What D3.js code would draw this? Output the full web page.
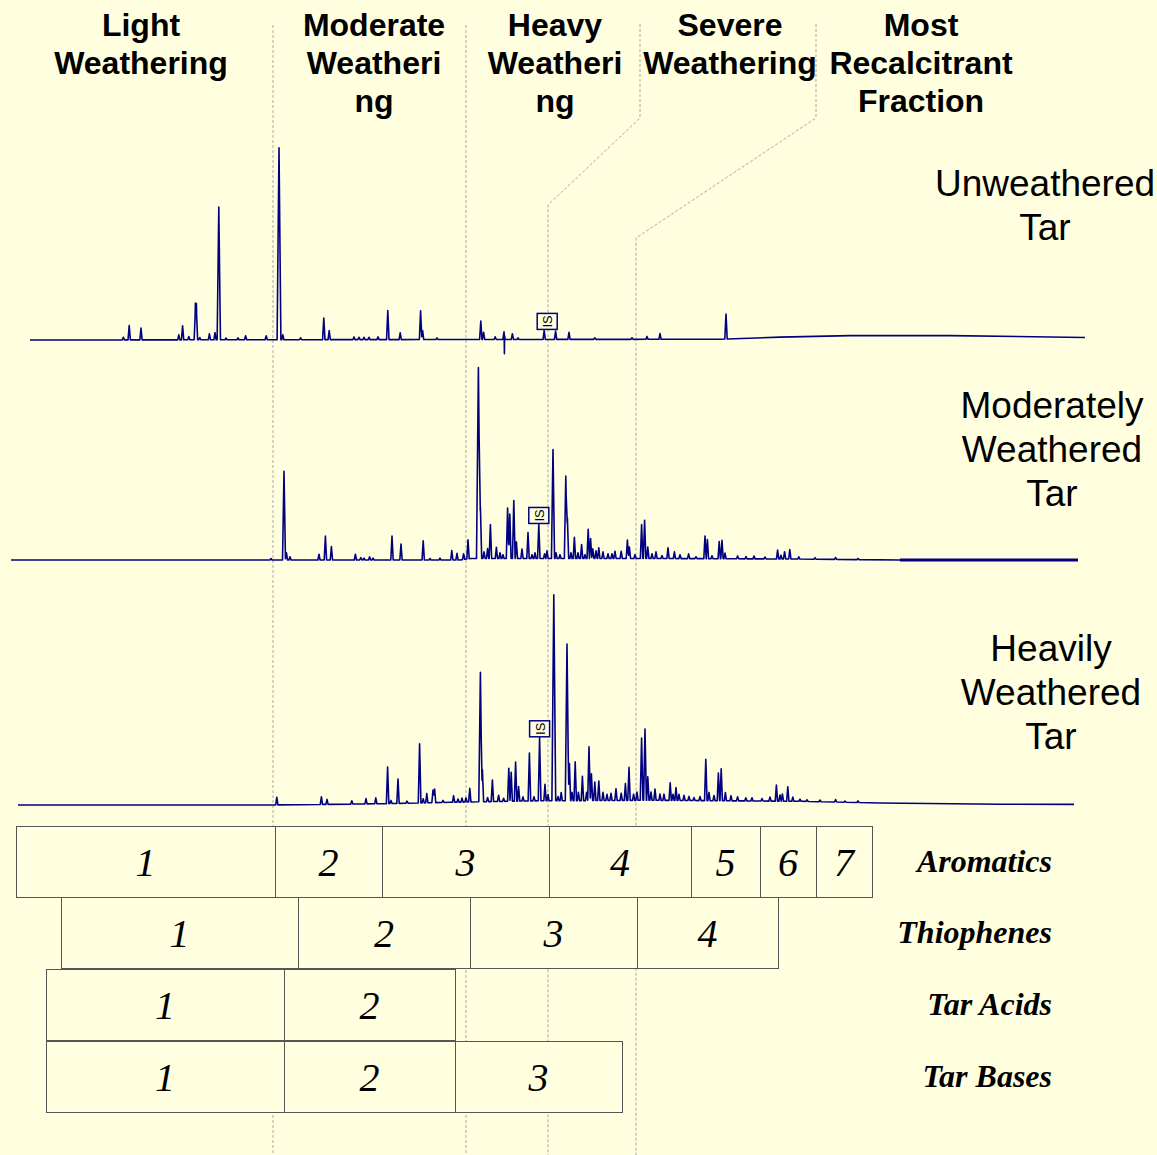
<!DOCTYPE html>
<html><head><meta charset="utf-8">
<script src="https://cdn.jsdelivr.net/npm/d3@7"></script>
<style>html,body{margin:0;padding:0;background:#FFFFE0;} svg{display:block;}</style>
</head><body><svg id="c" width="1157" height="1155"></svg>
<script>
// ---------------- DATA ----------------
// retention time (min), relative abundance (%)
const trace1Peaks = [[5.67,1.4],[5.96,7.5],[6.55,6.1],[8.44,2.6],[8.63,7.3],[8.94,1.7],[9.27,16.2],[9.32,15.8],[9.49,1.2],[9.97,3.1],[10.25,3.8],[10.44,69.2],[10.8,0.9],[11.4,1],[11.78,2.1],[12.81,2.1],[13.45,100],[13.64,2.6],[14.53,1],[15.69,11.3],[15.96,4.7],[17.2,1.4],[17.45,1.2],[17.7,1.2],[17.95,1.2],[18.4,1.4],[18.89,15.1],[19.51,3.5],[20.53,15],[20.63,4.7],[21.35,0.8],[23.54,9.6],[23.68,3.8],[24.26,1.4],[24.7,4],[24.72,-10],[25.12,3],[25.4,0.8],[26.71,4.7],[27.28,4.3],[27.95,3.7],[29.24,0.8],[31.1,0.8],[31.85,1.5],[32.5,3],[35.8,13]];
const trace1Baseline = [[1.0,0],[35.5,0.4],[38.5,1.5],[42,2.3],[47,2.3],[53.75,1.3]];

const trace2Peaks = [[13.05,0.8],[13.7,46.4],[13.82,3.8],[14.0,1.7],[15.45,3],[15.77,12.5],[16.07,7],[17.27,3],[17.54,1.2],[17.7,1],[17.98,1.7],[18.15,1],[19.1,12.5],[19.55,8.3],[20.66,10],[21.0,0.8],[21.5,1],[22.09,4.9],[22.35,3.5],[22.68,3],[22.9,9.9],[23.42,100],[23.52,27],[23.7,3.5],[23.88,5.2],[24.02,17.7],[24.32,5.9],[24.5,3],[24.65,2],[24.88,26.4],[24.99,23.3],[25.19,30.3],[25.32,8.7],[25.6,4.9],[25.9,13.6],[26.1,2],[26.25,3],[26.44,17.8],[26.73,2.5],[26.85,4],[27.15,57],[27.3,3],[27.5,2],[27.79,43.1],[27.87,21.2],[28.05,3],[28.22,11.1],[28.4,3],[28.58,7.3],[28.75,2],[28.91,15.3],[29.03,10.4],[29.14,5],[29.3,4],[29.44,5.6],[29.65,3.5],[29.9,2.5],[30.1,2.5],[30.25,3.8],[30.56,3.8],[30.87,9.6],[30.97,6],[31.25,2],[31.58,17.7],[31.73,20],[31.89,6],[32.1,2.5],[32.3,3.5],[32.6,1.5],[32.9,5.6],[33.22,3.5],[33.5,2],[33.93,2.5],[34.3,1],[34.75,11.8],[34.87,10],[35.1,1.5],[35.46,9],[35.6,9.6],[35.75,3],[36.38,1.5],[36.8,1.2],[37.2,1.5],[37.75,1],[38.38,4.7],[38.55,2],[38.73,3.8],[38.99,4.9],[39.44,1.2],[40.25,0.8],[41.28,1],[42.4,0.6]];
const trace2Baseline = [[0.05,0],[22.5,0],[23.0,0.8],[32,0.8],[39.5,0.5],[44.5,0],[53.4,0]];

const trace3Peaks = [[13.34,3.7],[15.57,3.7],[15.85,2.4],[17.09,1.6],[17.8,2.6],[18.29,2.9],[18.88,17.7],[19.05,1.5],[19.4,11.8],[19.85,1],[20.48,28.7],[20.66,2],[20.84,4.5],[21.15,6.1],[21.23,6.6],[21.65,1],[22.18,3.2],[22.4,1.5],[22.6,2],[22.8,2],[22.99,6.6],[23.52,62.9],[23.62,15.5],[23.88,2],[24.12,10.5],[24.43,3],[24.68,1.5],[24.94,16],[25.06,14],[25.28,19],[25.43,7],[25.65,2],[25.97,23.2],[26.2,2],[26.48,30.6],[26.75,8],[26.9,3],[27.19,100],[27.4,2],[27.56,4],[27.85,76],[27.97,18],[28.1,4],[28.26,18.8],[28.42,4],[28.62,11.8],[28.83,4],[28.95,26.1],[29.07,13],[29.24,9],[29.44,9.5],[29.65,4],[29.85,3],[30.05,3.5],[30.3,5.7],[30.56,3.5],[30.77,8.2],[30.95,16],[31.18,3],[31.35,4],[31.58,30.2],[31.75,34.6],[31.89,11.4],[32.05,4],[32.25,5.5],[32.5,3],[32.7,3],[33.01,8.5],[33.15,3],[33.3,6.2],[33.45,3],[33.7,2.5],[33.95,2],[34.2,1.5],[34.5,2],[34.79,20.1],[34.95,4],[35.2,2.5],[35.42,13.4],[35.56,15.5],[35.77,4],[36.05,2.5],[36.38,2],[36.79,1.5],[37.1,1.5],[37.6,1.2],[38.0,2],[38.32,7.8],[38.5,3],[38.62,3.5],[38.89,7],[39.14,2],[39.5,1],[39.85,0.8],[40.5,0.8],[41.28,1.2],[41.75,0.6],[42.4,0.8]];
const trace3Baseline = [[0.4,0],[13,0],[18.5,0.6],[22,1.3],[26,2],[32,2.3],[39.5,1.8],[43.5,1],[49.5,0.4],[53.2,0.3]];

const traceRanges = [[1.0,53.75],[0.05,53.4],[0.4,53.2]];
const thickRanges = [[[1.0,5.35]],[[0.05,12.9],[44.3,53.4]],[[0.4,5.2],[51.5,53.2]]];
const isTimes = [26.71, 26.44, 26.48];
const traceLabels = [["Unweathered","Tar"],["Moderately","Weathered","Tar"],["Heavily","Weathered","Tar"]];

const headerLabels = [["Light","Weathering"],["Moderate","Weatheri","ng"],["Heavy","Weatheri","ng"],["Severe","Weathering"],["Most","Recalcitrant","Fraction"]];
const headerTimes = [6.55, 18.2, 27.25, 36.0, 45.55];

const groupNames = ["Aromatics","Thiophenes","Tar Acids","Tar Bases"];
const aromaticsEdges = [0.3,13.25,18.6,26.95,34.05,37.5,40.3,43.1];
const thiophenesEdges = [2.55,14.4,23.0,31.35,38.4];
const tarAcidsEdges = [1.8,13.7,22.25];
const tarBasesEdges = [1.8,13.7,22.25,30.6];

const boundaryLower = [13.15, 22.8, 26.9, 31.3];
const boundaryUpper = [13.15, 22.8, 31.5, 40.3];

// ---------------- LAYOUT ----------------
const W = 1157, H = 1155;
const svg = d3.select("#c");
const bg = "#FFFFE0", ink = "#000080";
svg.append("rect").attr("width",W).attr("height",H).attr("fill",bg);

const x = d3.scaleLinear().domain([0,55]).range([10,1110]);
const yScales = [
  d3.scaleLinear().domain([0,100]).range([340,148]),
  d3.scaleLinear().domain([0,100]).range([560,369]),
  d3.scaleLinear().domain([0,100]).range([805,599])
];

// dashed boundary lines
const kneeY = [null, null, [118,205], [118,238]];
const gDash = svg.append("g").attr("stroke","#a8a8a8").attr("stroke-width",1).attr("stroke-dasharray","3,2").attr("fill","none");
boundaryLower.forEach((t,i)=>{
  let pts;
  if (kneeY[i]) pts = [[x(boundaryUpper[i]),24],[x(boundaryUpper[i]),kneeY[i][0]],[x(t),kneeY[i][1]],[x(t),H]];
  else pts = [[x(t),25],[x(t),H]];
  gDash.append("path").attr("d", d3.line()(pts));
});

// header labels
const gHead = svg.append("g").attr("font-family","'Liberation Sans', Arial, sans-serif").attr("font-weight","bold").attr("font-size",32).attr("text-anchor","middle").attr("fill","#000");
headerLabels.forEach((lines,i)=>{
  lines.forEach((s,j)=>{
    gHead.append("text").attr("x",x(headerTimes[i])).attr("y",36+j*38).text(s);
  });
});

// traces
function buildSeries(peaks, base, t0, t1){
  const bf = d3.scaleLinear().domain(base.map(d=>d[0])).range(base.map(d=>d[1])).clamp(true);
  const ws = peaks.map(p => p[1] < 0 ? 0.012 : 0.055 + 0.0004*p[1]);
  let ts = [t0,t1];
  base.forEach(b=>ts.push(b[0]));
  peaks.forEach((p,i)=>{ ts.push(p[0]-ws[i], p[0], p[0]+ws[i]); });
  ts = Array.from(new Set(ts.map(t=>+t.toFixed(4)))).filter(t=>t>=t0&&t<=t1).sort((a,b)=>a-b);
  return ts.map(t=>{
    let v = bf(t);
    peaks.forEach((p,i)=>{ const d = Math.abs(t-p[0]); if (d < ws[i]) v += p[1]*(1-d/ws[i]); });
    return [t,v];
  });
}
const peakSets = [trace1Peaks, trace2Peaks, trace3Peaks];
const baseSets = [trace1Baseline, trace2Baseline, trace3Baseline];
const gTr = svg.append("g");
peakSets.forEach((peaks,k)=>{
  const ys = yScales[k];
  const series = buildSeries(peaks, baseSets[k], traceRanges[k][0], traceRanges[k][1]);
  const line = d3.line().x(d=>x(d[0])).y(d=>ys(d[1]));
  gTr.append("path").attr("d", line(series)).attr("fill","none").attr("stroke",ink).attr("stroke-width",1.6).attr("stroke-linejoin","round");
  thickRanges[k].forEach(r=>{
    const seg = series.filter(d=>d[0]>=r[0] && d[0]<=r[1]);
    gTr.append("path").attr("d", line(seg)).attr("fill","none").attr("stroke",ink).attr("stroke-width",2.8);
  });
  // IS marker
  const bf = d3.scaleLinear().domain(baseSets[k].map(d=>d[0])).range(baseSets[k].map(d=>d[1])).clamp(true);
  const isPk = peaks.find(p=>p[0]===isTimes[k]);
  const topY = ys(isPk[1] + bf(isPk[0])) - 1;
  const cx = x(isTimes[k]) + (k===0 ? 3 : 0);
  const gIS = gTr.append("g");
  gIS.append("rect").attr("x",cx-10).attr("y",topY-16).attr("width",20).attr("height",16).attr("fill",bg).attr("stroke",ink).attr("stroke-width",1.5);
  gIS.append("text").attr("transform",`translate(${cx+5},${topY-8}) rotate(-90)`).attr("text-anchor","middle")
    .attr("font-family","'Liberation Sans', Arial, sans-serif").attr("font-size",13).attr("fill","#000").text("IS");
});

// trace labels
const labelX = [1045, 1052, 1051];
const labelY0 = [196, 418, 661];
const gLab = svg.append("g").attr("font-family","'Liberation Sans', Arial, sans-serif").attr("font-size",37).attr("text-anchor","middle").attr("fill","#000");
traceLabels.forEach((lines,k)=>{
  lines.forEach((s,j)=>{ gLab.append("text").attr("x",labelX[k]).attr("y",labelY0[k]+j*44).text(s); });
});

// fraction boxes
const edgeSets = [aromaticsEdges, thiophenesEdges, tarAcidsEdges, tarBasesEdges];
const rowTop = [826, 897, 969, 1041], rowH = 71;
const gBox = svg.append("g");
edgeSets.forEach((edges,r)=>{
  for (let i=0;i<edges.length-1;i++){
    const x0 = x(edges[i]), x1 = x(edges[i+1]);
    gBox.append("rect").attr("x",x0+0.5).attr("y",rowTop[r]+0.5).attr("width",x1-x0).attr("height",rowH)
      .attr("fill",bg).attr("stroke","#555").attr("stroke-width",1);
  }
});
edgeSets.forEach((edges,r)=>{
  for (let i=0;i<edges.length-1;i++){
    const x0 = x(edges[i]), x1 = x(edges[i+1]);
    gBox.append("text").attr("x",(x0+x1)/2).attr("y",rowTop[r]+rowH/2+14).attr("text-anchor","middle")
      .attr("font-family","'Liberation Serif', 'Times New Roman', serif").attr("font-style","italic").attr("font-size",40).attr("fill","#000")
      .text(String(i+1));
  }
  gBox.append("text").attr("x",1052).attr("y",rowTop[r]+rowH/2+10).attr("text-anchor","end")
    .attr("font-family","'Liberation Serif', 'Times New Roman', serif").attr("font-style","italic").attr("font-weight","bold").attr("font-size",32).attr("fill","#000")
    .text(groupNames[r]);
});
</script></body></html>
